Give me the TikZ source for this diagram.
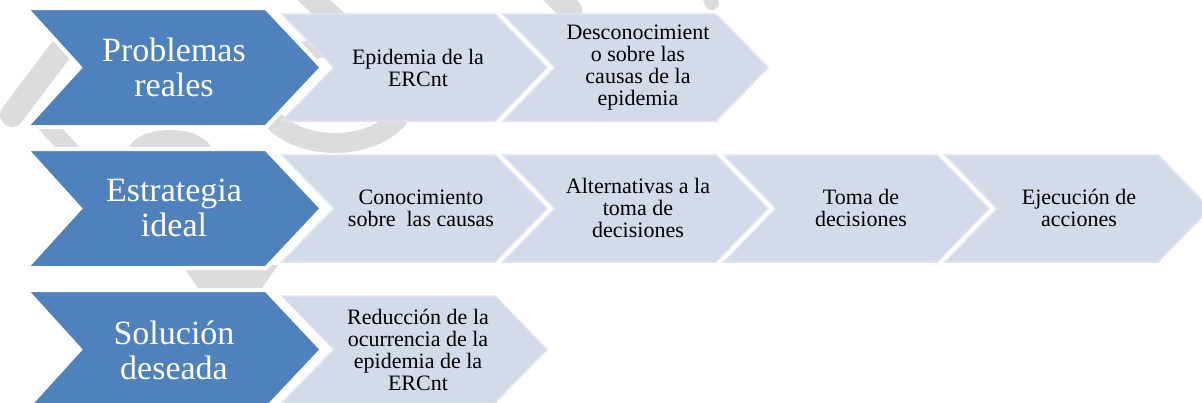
\documentclass[tikz,border=0pt]{standalone}
\usepackage{fontspec}
\setmainfont{Liberation Serif}
\definecolor{cblue}{RGB}{79,129,189}
\definecolor{clight}{RGB}{211,218,234}
\definecolor{cedge}{RGB}{222,227,239}
\definecolor{wm}{RGB}{220,220,220}
\tikzset{
  bluechev/.style={fill=cblue, draw=white, line width=4pt, line join=miter},
  lightchev/.style={fill=clight, draw=cedge, line width=1.5pt, line join=miter},
  btext/.style={text=white, align=center, inner sep=0pt, font=\fontsize{34}{35}\selectfont},
  ltext/.style={text=black, align=center, inner sep=0pt, font=\fontsize{22}{22}\selectfont},
  wmark/.style={draw=wm, line cap=round},
}
\newcommand\lightchev[2]{%
  \path[lightchev] (#1,#2-53.5) -- ++(213,0) -- ++(52,53.5) -- ++(-52,53.5) -- ++(-213,0) -- ++(52,-53.5) -- cycle;}
\newcommand\bluechev[1]{%
  \path[bluechev] (26,#1-59.5) -- ++(240,0) -- ++(56,59.5) -- ++(-56,59.5) -- ++(-240,0) -- ++(54,-59.5) -- cycle;}
\begin{document}
\begin{tikzpicture}[x=1pt,y=-1pt]
\useasboundingbox (0,0) rectangle (1202,402);
% watermark (faint grey)
\draw[wmark, line width=24pt] (70,38) -- (12,115);
\draw[wmark, line width=18pt] (46,124) -- (70,150);
\fill[wm] (170,152) ellipse (42 and 22);
\draw[wmark, line width=20pt] (335,95) ellipse (72 and 48);
\draw[wmark, line width=22pt] (300,-12) -- (345,28);
\draw[wmark, line width=24pt] (548,-12) -- (570,10);
\draw[wmark, line width=14pt] (705,-12) -- (712,3);
\fill[wm] (182,265) -- (278,265) -- (262,288) -- (198,288) -- cycle;
% row 1
\lightchev{282}{67.5}
\lightchev{503}{67.5}
\bluechev{67.5}
% row 2
\lightchev{282}{208.5}
\lightchev{503}{208.5}
\lightchev{724}{208.5}
\lightchev{945}{208.5}
\bluechev{208.5}
% row 3
\lightchev{282}{349.5}
\bluechev{349.5}
% texts
\node[btext] (p) at (174,67) {Problemas\\reales};
\node[btext] (e) at (174,208) {Estrategia\\ideal};
\node[btext] (s) at (174,350) {Solución\\deseada};
\node[ltext] (p1) at (418,67.5) {Epidemia de la\\ERCnt};
\node[ltext] (p2) at (638,67.5) {Desconocimient\\o sobre las\\causas de la\\epidemia};
\node[ltext] (e1) at (421,208) {Conocimiento\\sobre~ las causas};
\node[ltext] (e2) at (638,208) {Alternativas a la\\toma de\\decisiones};
\node[ltext] (e3) at (861,208) {Toma de\\decisiones};
\node[ltext] (e4) at (1079,208) {Ejecución de\\acciones};
\node[ltext] (s1) at (418,350) {Reducción de la\\ocurrencia de la\\epidemia de la\\ERCnt};
\end{tikzpicture}
\end{document}
